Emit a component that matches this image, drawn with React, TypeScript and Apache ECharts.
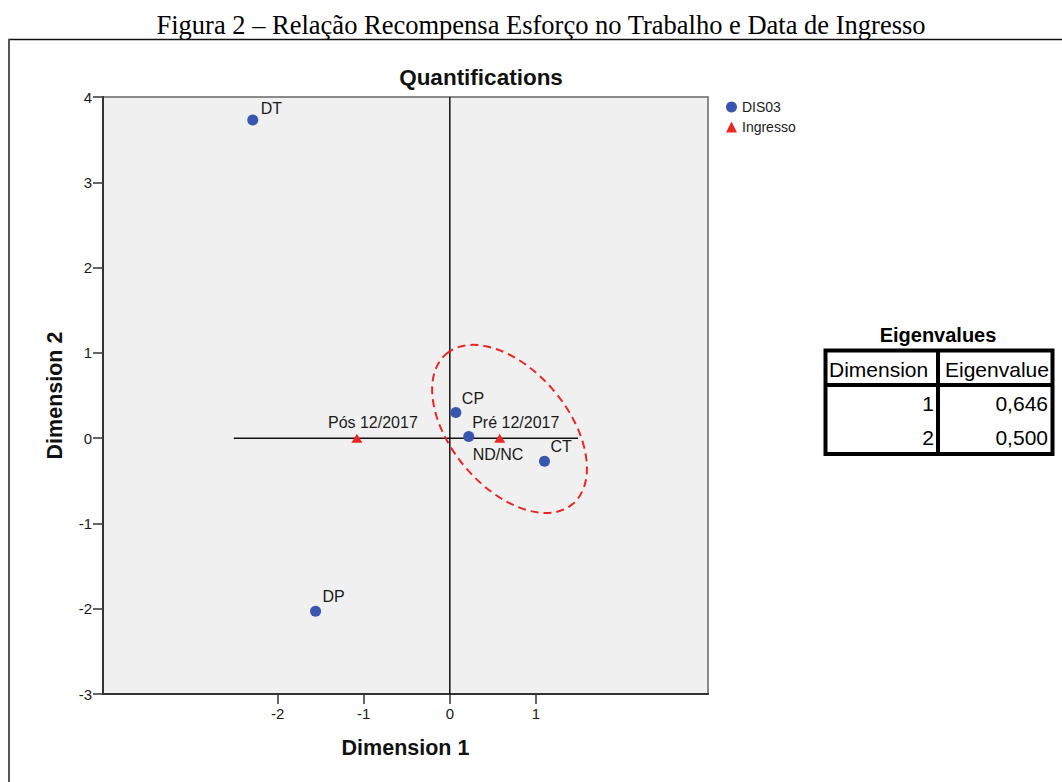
import React, { useEffect, useRef } from "react";
import * as echarts from "echarts";

// Category quantifications: DIS03 (blue circles)
const dis03Labels = ["DT", "DP", "CP", "ND/NC", "CT"];
const dis03Dim1 = [-2.29, -1.56, 0.07, 0.22, 1.1];
const dis03Dim2 = [3.73, -2.03, 0.3, 0.02, -0.27];

// Category quantifications: Ingresso (red triangles)
const ingressoLabels = ["Pós 12/2017", "Pré 12/2017"];
const ingressoDim1 = [-1.08, 0.58];
const ingressoDim2 = [0, 0];

// Axes
const dim1Range = [-4.03, 3.0];
const dim2Range = [-3, 4];
const dim1TickValues = [-2, -1, 0, 1];
const dim1RefExtent = [-2.51, 1.49];

// Eigenvalues table
const eigenDimensions = [1, 2];
const eigenValues = [0.646, 0.5];

// Dashed ellipse drawn around the cluster (data units)
const ellipseCenter = [0.694, 0.108];
const ellipseSemiAxes = [1.14, 0.68];
const ellipseTiltDeg = 50;

const BLUE = "#3a55b0";
const RED = "#ea2626";
const SANS = "'Liberation Sans', Arial, sans-serif";

// label offsets from the symbol centre, in px
const labelOffsets: Record<string, [number, number]> = {
  DT: [8, -12],
  DP: [7, -15],
  CP: [6, -14],
  "ND/NC": [4, 18],
  CT: [6, -15],
  "Pós 12/2017": [16, -16],
  "Pré 12/2017": [16, -16],
};

const fmt = (v: number) => v.toFixed(3).replace(".", ",");

export default function App() {
  const ref = useRef<HTMLDivElement>(null);

  useEffect(() => {
    if (!ref.current) return;
    const chart = echarts.init(ref.current, null, { renderer: "svg" });

    const tableLeft = 825.5;
    const tableRight = 1052.5;
    const tableTop = 350.5;
    const tableBottom = 454;
    const headerLine = 385;
    const colLine = 938;
    const rowY = [403, 437];
    const lw = 4;

    const tableElements: any[] = [
      {
        id: "eig-title",
        type: "text",
        x: 938,
        y: 335,
        style: {
          text: "Eigenvalues",
          font: `bold 20px ${SANS}`,
          fill: "#000",
          align: "center",
          verticalAlign: "middle",
        },
      },
      {
        id: "eig-box",
        type: "rect",
        shape: {
          x: tableLeft,
          y: tableTop,
          width: tableRight - tableLeft,
          height: tableBottom - tableTop,
        },
        style: { fill: "#fff", stroke: "#000", lineWidth: lw },
      },
      {
        id: "eig-hline",
        type: "line",
        shape: { x1: tableLeft, y1: headerLine, x2: tableRight, y2: headerLine },
        style: { stroke: "#000", lineWidth: lw },
      },
      {
        id: "eig-vline",
        type: "line",
        shape: { x1: colLine, y1: tableTop, x2: colLine, y2: tableBottom },
        style: { stroke: "#000", lineWidth: lw },
      },
      {
        id: "eig-h1",
        type: "text",
        x: 829,
        y: 369,
        style: {
          text: "Dimension",
          font: `21px ${SANS}`,
          fill: "#000",
          align: "left",
          verticalAlign: "middle",
        },
      },
      {
        id: "eig-h2",
        type: "text",
        x: 945,
        y: 369,
        style: {
          text: "Eigenvalue",
          font: `21px ${SANS}`,
          fill: "#000",
          align: "left",
          verticalAlign: "middle",
        },
      },
    ];
    eigenDimensions.forEach((d, i) => {
      tableElements.push({
        id: `eig-d${i}`,
        type: "text",
        x: 934,
        y: rowY[i],
        style: {
          text: String(d),
          font: `21px ${SANS}`,
          fill: "#000",
          align: "right",
          verticalAlign: "middle",
        },
      });
      tableElements.push({
        id: `eig-v${i}`,
        type: "text",
        x: 1048,
        y: rowY[i],
        style: {
          text: fmt(eigenValues[i]),
          font: `21px ${SANS}`,
          fill: "#000",
          align: "right",
          verticalAlign: "middle",
        },
      });
    });

    const pointItem = (name: string, x: number, y: number, align: string) => ({
      name,
      value: [x, y],
      label: {
        align,
        offset: labelOffsets[name] || [0, 0],
      },
    });

    const pointLabel = {
      show: true,
      position: "inside",
      formatter: "{b}",
      verticalAlign: "middle",
      fontSize: 16,
      color: "#1a1a1a",
      fontFamily: SANS,
      textBorderWidth: 0,
    };

    const axisNameStyle = {
      fontSize: 21.5,
      fontWeight: "bold",
      color: "#111",
      fontFamily: SANS,
    };

    const option: any = {
      animation: false,
      textStyle: { fontFamily: SANS },
      grid: {
        left: 103,
        top: 97,
        width: 605,
        height: 597,
        show: true,
        backgroundColor: "#f0f0f0",
        borderColor: "#666",
        borderWidth: 1.5,
      },
      legend: {
        orient: "vertical",
        left: 721,
        top: 95,
        itemWidth: 11,
        itemHeight: 11,
        itemGap: 6,
        textStyle: { fontSize: 14, color: "#1a1a1a", fontFamily: SANS },
        data: [
          { name: "DIS03", icon: "circle" },
          { name: "Ingresso", icon: "triangle" },
        ],
      },
      xAxis: {
        type: "value",
        min: dim1Range[0],
        max: dim1Range[1],
        name: "Dimension 1",
        nameLocation: "middle",
        nameGap: 43,
        nameTextStyle: axisNameStyle,
        splitLine: { show: false },
        axisLine: { show: true, onZero: false, lineStyle: { color: "#333", width: 2 } },
        axisTick: {
          show: true,
          length: 10,
          customValues: dim1TickValues,
          lineStyle: { color: "#333", width: 1.5 },
        },
        axisLabel: {
          customValues: dim1TickValues,
          fontSize: 15,
          color: "#1a1a1a",
          margin: 12,
          fontFamily: SANS,
        },
      },
      yAxis: {
        type: "value",
        min: dim2Range[0],
        max: dim2Range[1],
        interval: 1,
        name: "Dimension 2",
        nameLocation: "middle",
        nameGap: 37,
        nameTextStyle: axisNameStyle,
        splitLine: { show: false },
        axisLine: { show: true, onZero: false, lineStyle: { color: "#333", width: 2 } },
        axisTick: { show: true, length: 10, lineStyle: { color: "#333", width: 1.5 } },
        axisLabel: { fontSize: 15, color: "#1a1a1a", margin: 11, fontFamily: SANS },
      },
      series: [
        {
          name: "ref-h",
          type: "line",
          silent: true,
          symbol: "none",
          lineStyle: { color: "#111", width: 1.5 },
          data: [
            [dim1RefExtent[0], 0],
            [dim1RefExtent[1], 0],
          ],
          z: 1,
        },
        {
          name: "ref-v",
          type: "line",
          silent: true,
          symbol: "none",
          lineStyle: { color: "#111", width: 1.5 },
          data: [
            [0, dim2Range[0]],
            [0, dim2Range[1]],
          ],
          z: 1,
        },
        {
          name: "DIS03",
          type: "scatter",
          symbol: "circle",
          symbolSize: 11,
          itemStyle: { color: BLUE, opacity: 1 },
          label: pointLabel,
          data: dis03Labels.map((n, i) =>
            pointItem(n, dis03Dim1[i], dis03Dim2[i], "left")
          ),
          z: 3,
        },
        {
          name: "Ingresso",
          type: "scatter",
          symbol: "triangle",
          symbolSize: [11, 9],
          itemStyle: { color: RED, opacity: 1 },
          label: pointLabel,
          data: ingressoLabels.map((n, i) =>
            pointItem(n, ingressoDim1[i], ingressoDim2[i], "center")
          ),
          z: 3,
        },
      ],
      graphic: {
        elements: [
          {
            id: "caption",
            type: "text",
            x: 541,
            y: 25,
            style: {
              text: "Figura 2 – Relação Recompensa Esforço no Trabalho e Data de Ingresso",
              font: "26.5px 'Liberation Serif', 'Times New Roman', serif",
              fill: "#000",
              align: "center",
              verticalAlign: "middle",
            },
          },
          {
            id: "frame-top",
            type: "line",
            shape: { x1: 8, y1: 39.5, x2: 1062, y2: 39.5 },
            style: { stroke: "#111", lineWidth: 1.5 },
          },
          {
            id: "frame-left",
            type: "line",
            shape: { x1: 9, y1: 39, x2: 9, y2: 782 },
            style: { stroke: "#555", lineWidth: 2 },
          },
          {
            id: "plot-title",
            type: "text",
            x: 481,
            y: 77,
            style: {
              text: "Quantifications",
              font: `bold 22.5px ${SANS}`,
              fill: "#111",
              align: "center",
              verticalAlign: "middle",
            },
          },
          ...tableElements,
        ],
      },
    };

    chart.setOption(option);

    // place the dashed ellipse using the grid's own data-to-pixel mapping
    const c = chart.convertToPixel({ gridIndex: 0 }, ellipseCenter) as number[];
    const u = chart.convertToPixel({ gridIndex: 0 }, [
      ellipseCenter[0] + 1,
      ellipseCenter[1],
    ]) as number[];
    const pxPerUnit = u[0] - c[0];
    chart.setOption({
      graphic: {
        elements: [
          {
            id: "cluster-ellipse",
            type: "ellipse",
            x: c[0],
            y: c[1],
            rotation: (-ellipseTiltDeg * Math.PI) / 180,
            shape: {
              cx: 0,
              cy: 0,
              rx: ellipseSemiAxes[0] * pxPerUnit,
              ry: ellipseSemiAxes[1] * pxPerUnit,
            },
            style: {
              fill: "none",
              stroke: RED,
              lineWidth: 2,
              lineDash: [8, 5],
            },
            z: 50,
          },
        ],
      },
    });

    return () => chart.dispose();
  }, []);

  return (
    <div
      ref={ref}
      style={{
        position: "fixed",
        left: 0,
        top: 0,
        width: 1062,
        height: 782,
        background: "#fff",
      }}
    />
  );
}
